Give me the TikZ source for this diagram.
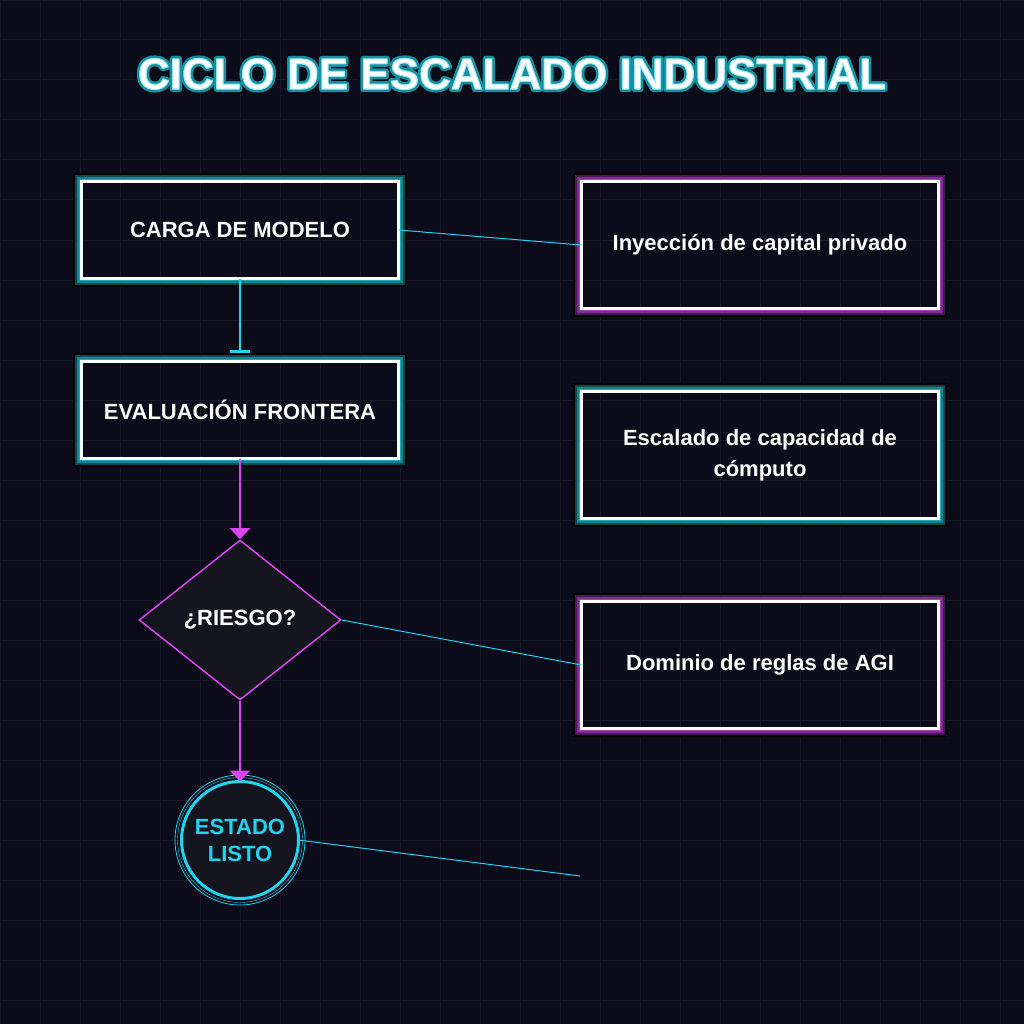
\documentclass[tikz,border=0pt]{standalone}
\usepackage{fontspec}
\setmainfont{Liberation Sans}
\usetikzlibrary{arrows.meta, shapes.geometric, positioning}

\definecolor{fondo}{HTML}{0B0B1A}
\definecolor{rejilla}{HTML}{191929}
\definecolor{cian}{HTML}{22D3EE}
\definecolor{neonmag}{HTML}{D946EF}
\definecolor{relleno}{HTML}{151520}
\definecolor{cianhalo1}{HTML}{1FA5B5}
\definecolor{cianhalo2}{HTML}{15838F}
\definecolor{cianhalo3}{HTML}{0C4A53}
\definecolor{maghalo1}{HTML}{A53FB8}
\definecolor{maghalo2}{HTML}{7F2C91}
\definecolor{maghalo3}{HTML}{481A55}

% text outline (w = stroke width, RGB of the stroke)
\newcommand{\contorno}[3]{\special{pdf:literal direct #2 RG #1 w 1 j 2 Tr}#3\special{pdf:literal direct 0 Tr}}

\begin{document}
\begin{tikzpicture}[x=1pt, y=-1pt,
    caja/.style={draw=white, line width=3pt, minimum width=317pt, minimum height=97pt,
      inner sep=0pt, outer sep=0pt, text=white, align=center,
      font=\bfseries\fontsize{22}{31}\selectfont},
    cajader/.style={caja, minimum width=357pt, minimum height=127pt},
    flecha/.style={neonmag, line width=2.2pt, -{Triangle[width=20pt, length=11pt]}},
    enlace/.style={cian, line width=1pt},
    titulo/.style={font=\bfseries\fontsize{44}{50}\selectfont, inner sep=0pt}]
  \useasboundingbox (0,0) rectangle (1024,1024);
  \fill[fondo] (0,0) rectangle (1024,1024);
  \draw[rejilla, line width=1pt, step=40pt] (0,0) grid (1024,1024);

  % Main flow
  \node[caja] (carga) at (240,230) {CARGA DE MODELO};
  \node[caja] (eval) at (240,410) {EVALUACIÓN FRONTERA};
  \node[diamond, draw=neonmag, line width=1.5pt, fill=relleno, minimum width=202pt,
    minimum height=160pt, inner sep=0pt, text=white,
    font=\bfseries\fontsize{22}{27}\selectfont] (riesgo) at (240,620) {¿RIESGO?};
  \node[circle, draw=cian, line width=3pt, fill=relleno, minimum size=117pt, inner sep=0pt,
    outer sep=0pt, text=cian, align=center,
    font=\bfseries\fontsize{22}{27}\selectfont] (listo) at (240,840) {ESTADO\\LISTO};
  \draw[cian, line width=0.8pt] (listo.center) circle (65);
  \draw[cian, line width=0.4pt] (listo.center) circle (62.5);

  % Side boxes
  \node[cajader] (capital) at (760,245) {Inyección de capital privado};
  \node[cajader] (computo) at (760,455) {Escalado de capacidad de\\cómputo};
  \node[cajader] (dominio) at (760,665) {Dominio de reglas de AGI};
  \coordinate (libre) at (580,876);

  % Glow around boxes
  \foreach \n/\f in {carga/cian, eval/cian, capital/mag, computo/cian, dominio/mag}{
    \draw[black, line width=2pt] ([shift={(-7.5pt,7.5pt)}]\n.north west) rectangle ([shift={(7.5pt,-7.5pt)}]\n.south east);
    \draw[color=\f halo3, line width=2pt] ([shift={(-5.5pt,5.5pt)}]\n.north west) rectangle ([shift={(5.5pt,-5.5pt)}]\n.south east);
    \draw[color=\f halo2, line width=2pt] ([shift={(-3.5pt,3.5pt)}]\n.north west) rectangle ([shift={(3.5pt,-3.5pt)}]\n.south east);
    \draw[color=\f halo1, line width=1pt] ([shift={(-2pt,2pt)}]\n.north west) rectangle ([shift={(2pt,-2pt)}]\n.south east);
  }

  % Connectors
  \draw[cian, line width=2.2pt, -{Bar[width=20pt]}, shorten >=9pt] (carga) -- (eval);
  \draw[flecha] (eval) -- (riesgo);
  \draw[flecha] (riesgo) -- (listo);
  \draw[enlace] (carga.east) -- (capital.west);
  \draw[enlace] (riesgo.east) -- (dominio.west);
  \draw[enlace] (listo.east) -- (libre);

  % Title: dark rim, teal glow, white letters
  \node[titulo, text=black] (titulo-borde) at (512,74)
    {\contorno{9}{0.02 0.05 0.07}{CICLO DE ESCALADO INDUSTRIAL}};
  \node[titulo, text=cianhalo2] (titulo-halo) at (512,74)
    {\contorno{6}{0.09 0.56 0.62}{CICLO DE ESCALADO INDUSTRIAL}};
  \node[titulo, text=white] (titulo) at (512,74)
    {\contorno{1}{0.6 0.9 0.95}{CICLO DE ESCALADO INDUSTRIAL}};
\end{tikzpicture}
\end{document}
